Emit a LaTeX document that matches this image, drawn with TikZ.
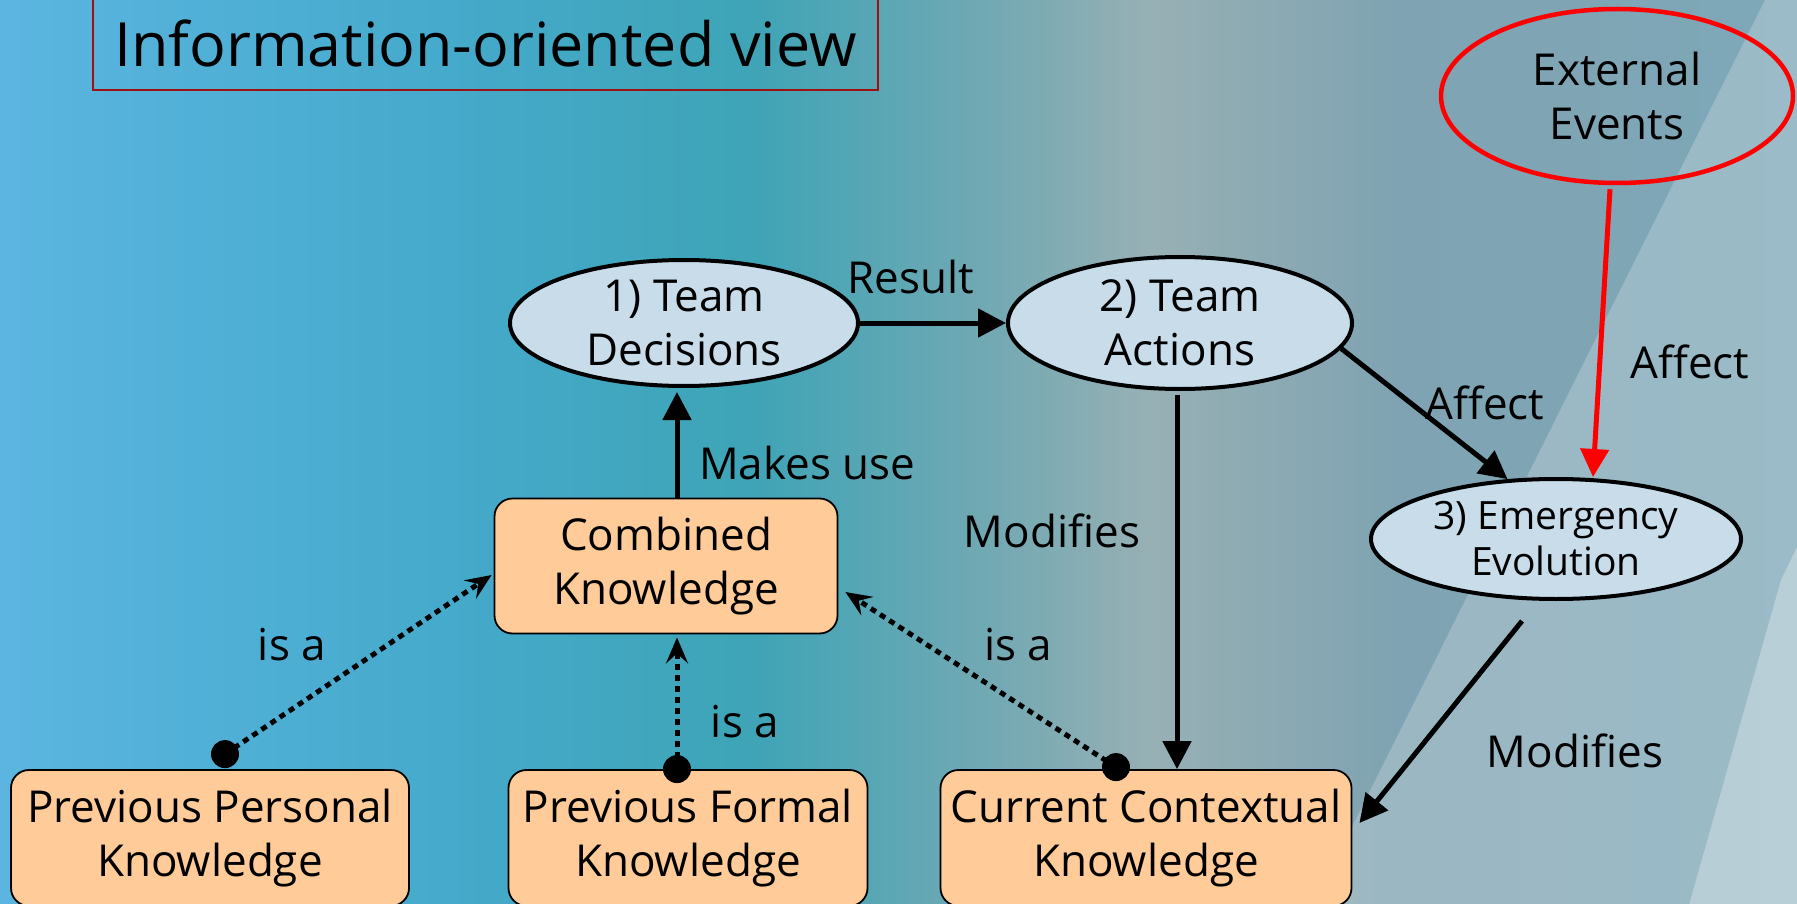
\documentclass[tikz,border=0pt]{standalone}
\usepackage{fontspec}
\setmainfont{Open Sans}
\usetikzlibrary{arrows.meta,shapes.geometric,calc}
\definecolor{bga}{HTML}{5BB5E0}
\definecolor{bgb}{HTML}{45AACB}
\definecolor{bgc}{HTML}{3EA4B6}
\definecolor{bgd}{HTML}{74A9B3}
\definecolor{bge}{HTML}{97B0B4}
\definecolor{bgf}{HTML}{7FA3B2}
\definecolor{bgg}{HTML}{7EA8B8}
\definecolor{ellfill}{HTML}{C8DCEA}
\definecolor{boxfill}{HTML}{FFCC99}
\definecolor{titlered}{HTML}{A01010}
\definecolor{extred}{HTML}{FF0000}
\begin{document}
\begin{tikzpicture}[x=1pt,y=-1pt,
  txt/.style={font=\fontsize{44}{54}\selectfont},
  ell/.style={ellipse, draw=black, line width=4pt, fill=ellfill, inner sep=0pt, align=center, txt},
  kbox/.style={rectangle, rounded corners=18pt, draw=black, line width=1.8pt, fill=boxfill, inner sep=0pt, align=center, txt},
  lbl/.style={inner sep=0pt, txt},
  solidarrow/.style={line width=5pt, -{Triangle[length=28pt,width=28pt]}},
  isa/.style={line width=5pt, dash pattern=on 6pt off 5pt, -{Stealth[length=26pt,width=22pt,inset=10pt]}}
]
\useasboundingbox (0,0) rectangle (1797,904);
% background
\shade[left color=bga, right color=bgb] (0,0) rectangle (450,904);
\shade[left color=bgb, right color=bgc] (450,0) rectangle (750,904);
\shade[left color=bgc, right color=bgd] (750,0) rectangle (1000,904);
\shade[left color=bgd, right color=bge] (1000,0) rectangle (1150,904);
\shade[left color=bge, right color=bgf] (1150,0) rectangle (1400,904);
\shade[left color=bgf, right color=bgg] (1400,0) rectangle (1797.5,904);
\fill[white, opacity=0.22] (1765,0) -- (1798,0) -- (1798,905) -- (1313,905) -- cycle;
\fill[white, opacity=0.3] (1781,580) -- (1798,545) -- (1798,905) -- (1689,905) -- cycle;

% title
\node[draw=titlered, line width=2.5pt, minimum width=785, minimum height=93, inner sep=0pt,
      font=\fontsize{61}{70}\selectfont] (title) at (485.5,43.5) {Information-oriented view};

% nodes
\node[ell, minimum width=348, minimum height=126] (dec) at (684,323) {1) Team\\Decisions};
\node[ell, minimum width=344, minimum height=132] (act) at (1180,323) {2) Team\\Actions};
\node[ell, minimum width=370, minimum height=120, font=\fontsize{39}{46}\selectfont] (emg) at (1556,539) {3) Emergency\\Evolution};
\node[ellipse, draw=extred, line width=4.5pt, inner sep=0pt, align=center, txt,
      minimum width=352, minimum height=174] (ext) at (1617,96) {External\\Events};

\node[kbox, minimum width=343, minimum height=135] (comb) at (666,566) {Combined\\Knowledge};
\node[kbox, minimum width=398, minimum height=136] (pers) at (210,838) {Previous Personal\\Knowledge};
\node[kbox, minimum width=359, minimum height=136] (form) at (688,838) {Previous Formal\\Knowledge};
\node[kbox, minimum width=411, minimum height=136] (curr) at (1146,838) {Current Contextual\\Knowledge};

% solid connectors
\draw[solidarrow] ([xshift=11pt]comb.north) -- ([xshift=-7pt,yshift=-4pt]dec.south);
\draw[solidarrow] (dec.east) -- (act.west);
\draw[solidarrow] (act.-9) -- (emg.129);
\draw[solidarrow] ($(act.south)+(-3,4)$) -- ($(act.south |- curr.north)+(-3,0)$);
\draw[solidarrow] ($(emg.south)+(-34,20)$) -- ($(curr.east)+(7,-15)$);
\draw[solidarrow, draw=extred, fill=extred] ($(ext.south)+(-7,4)$) -- ($(emg.north)+(37,0)$);

% dotted "is a" connectors
\coordinate (d1) at ($(pers.north)+(15,-15)$);
\coordinate (d2) at ($(form.north)+(-11,0)$);
\coordinate (d3) at ($(curr.north)+(-30,-2)$);
\draw[isa] (d1) -- ($(comb.west)+(-2,9)$);
\draw[isa] (d2) -- ($(comb.south)+(11,3)$);
\draw[isa] (d3) -- ($(comb.east)+(7,26)$);
\fill (d1) circle[radius=14];
\fill (d2) circle[radius=14];
\fill (d3) circle[radius=14];

% labels
\node[lbl, anchor=west] (lmakes) at (699,463) {Makes use};
\node[lbl] (lresult) at (911,277) {Result};
\node[lbl] (laffect1) at (1485,403) {Affect};
\node[lbl] (lmod1) at (1052,531) {Modifies};
\node[lbl] (lmod2) at (1575,751) {Modifies};
\node[lbl] (laffect2) at (1690,362) {Affect};
\node[lbl] (lisa1) at (292,645) {is a};
\node[lbl] (lisa2) at (745,722) {is a};
\node[lbl] (lisa3) at (1018,645) {is a};
\end{tikzpicture}
\end{document}
